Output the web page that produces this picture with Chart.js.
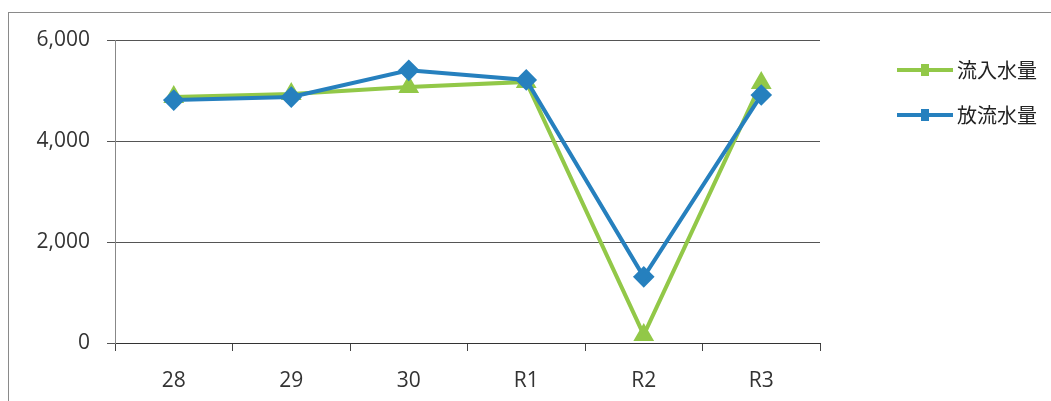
<!DOCTYPE html>
<html>
<head>
<meta charset="utf-8">
<script src="https://cdn.jsdelivr.net/npm/chart.js@4"></script>
<style>
  body { margin: 0; background: #fff; }
  #wrap { position: relative; width: 1051px; height: 401px; overflow: hidden; }
  #frame { position: absolute; left: 8px; top: 12px; width: 1100px; height: 500px; border: 1px solid #8a8a8a; }
  #myChart { position: absolute; left: 0; top: 0; }
  .leg { position: absolute; left: 897px; height: 24px; font-family: "Noto Sans CJK JP", sans-serif; font-size: 20px; line-height: 24px; color: #222; display: flex; align-items: center; }
  .leg span.sw { display: inline-block; width: 56px; height: 4px; margin-right: 4px; position: relative; }
  .leg span.mk { position: absolute; left: 24px; top: -4px; width: 8px; height: 12px; }
</style>
</head>
<body>
<div id="wrap">
  <div id="frame"></div>
  <canvas id="myChart" width="1051" height="401"></canvas>
  <div id="legend"></div>
</div>
<script>
const labels = ["28", "29", "30", "R1", "R2", "R3"];
const inflow = [4870, 4930, 5070, 5170, 160, 5150];
const outflow = [4810, 4870, 5400, 5210, 1310, 4910];
const yTicks = [0, 2000, 4000, 6000];

const green = 'rgb(146, 200, 72)';
const blue = 'rgb(38, 128, 190)';
const tickFont = { family: 'Open Sans', size: 21 };

const data = {
  labels: labels,
  datasets: [
    {
      label: '流入水量',
      data: inflow,
      borderColor: green,
      backgroundColor: green,
      borderWidth: 4,
      pointStyle: 'triangle',
      pointRadius: 8,
      pointHoverRadius: 8,
      tension: 0,
      order: 1
    },
    {
      label: '放流水量',
      data: outflow,
      borderColor: blue,
      backgroundColor: blue,
      borderWidth: 4,
      pointStyle: 'rectRot',
      pointRadius: 8,
      pointHoverRadius: 8,
      tension: 0,
      order: 0
    }
  ]
};

const config = {
  type: 'line',
  data: data,
  options: {
    responsive: false,
    animation: false,
    layout: { padding: { left: 0, right: 231, top: 40, bottom: 0 } },
    plugins: {
      legend: { display: false },
      tooltip: { enabled: false }
    },
    scales: {
      x: {
        offset: true,
        grid: { offset: true, drawOnChartArea: false, drawTicks: true, tickLength: 8, color: '#444' },
        border: { color: '#333', width: 1 },
        ticks: { padding: 17, color: '#333', font: tickFont },
        afterFit: function (s) { s.height = 58; }
      },
      y: {
        min: 0,
        max: 6000,
        afterBuildTicks: function (s) { s.ticks = yTicks.map(v => ({ value: v })); },
        grid: { color: '#555', tickLength: 8, lineWidth: 1 },
        border: { color: '#888', width: 1 },
        ticks: {
          padding: 17,
          color: '#333',
          font: tickFont,
          callback: v => v.toLocaleString('en-US')
        },
        afterFit: function (s) { s.width = 115; }
      }
    }
  }
};

const myChart = new Chart(document.getElementById('myChart'), config);

// legend (blue row below green row)
const legendEl = document.getElementById('legend');
const rows = [data.datasets[0], data.datasets[1]];
const tops = [58, 103];
rows.forEach((ds, i) => {
  const d = document.createElement('div');
  d.className = 'leg';
  d.style.top = tops[i] + 'px';
  const sw = document.createElement('span');
  sw.className = 'sw';
  sw.style.background = ds.borderColor;
  const mk = document.createElement('span');
  mk.className = 'mk';
  mk.style.background = ds.borderColor;
  sw.appendChild(mk);
  d.appendChild(sw);
  d.appendChild(document.createTextNode(ds.label));
  legendEl.appendChild(d);
});
</script>
</body>
</html>
